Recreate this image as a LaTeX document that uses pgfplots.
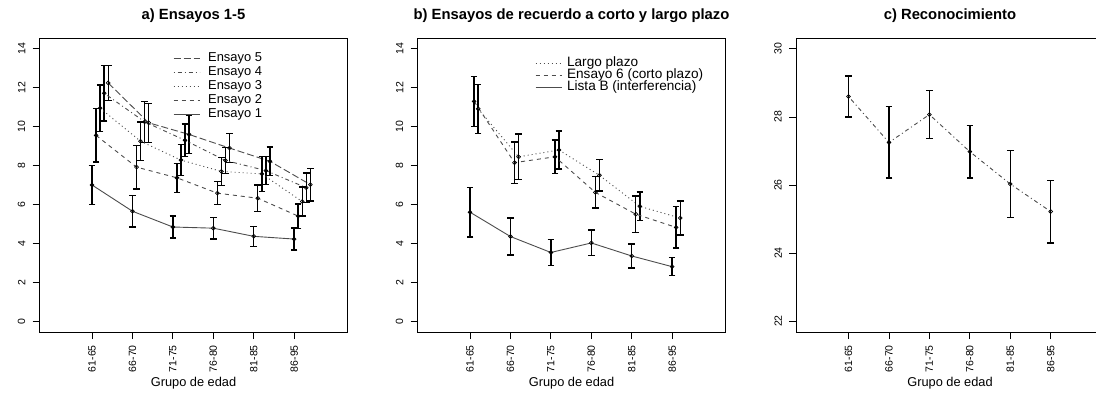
\documentclass[border=0pt]{standalone}
\usepackage{fontspec}
\setmainfont{Liberation Sans}
\usepackage{pgfplots}
\pgfplotsset{compat=1.18}
\begin{document}
\begin{tikzpicture}
\pgfplotsset{
  myaxis/.style={
    scale only axis, width=308pt, height=294pt,
    anchor=south west,
    xmin=-0.3, xmax=7.32,
    xtick={1,...,6}, xticklabels={61-65,66-70,71-75,76-80,81-85,86-95},
    xtick pos=left, ytick pos=left,
    tick align=outside,
    major tick length=7pt,
    tick style={black, line width=0.8pt},
    axis line style={black, line width=0.8pt},
    xticklabel style={rotate=90, anchor=east, font=\fontsize{10.5}{12}\selectfont, inner sep=0pt},
    yticklabel style={rotate=90, anchor=south, font=\fontsize{10.5}{12}\selectfont, inner sep=0pt},
    xticklabel shift=6pt, yticklabel shift=7pt,
    /pgf/number format/assume math mode=true,
    xlabel={Grupo de edad},
    xlabel style={font=\fontsize{12.8}{14}\selectfont, at={(axis description cs:0.5,0)}, anchor=base, yshift=-54pt},
    title style={font=\fontsize{14.8}{16}\selectfont\bfseries, at={(axis description cs:0.5,1)}, anchor=base, yshift=13pt},
    legend cell align=left,
    legend image code/.code={\draw[##1, mark=none] (0pt,0pt) -- (26pt,0pt);},
    error bars/y dir=both, error bars/y explicit,
    error bars/error bar style={solid, black, line width=1.4pt},
    error bars/error mark options={solid, black, line width=1.4pt, mark size=3.3pt, rotate=90},
  },
  ser/.style={black!70, line width=0.9pt, mark=o, mark size=1.9pt, mark options={solid, black, line width=0.7pt}},
}
% ---------------- panel a
\begin{axis}[myaxis, at={(39.5pt,60pt)},
  ymin=-0.56, ymax=14.56, ytick={0,2,...,14},
  title={a) Ensayos 1-5},
  legend style={draw=none, fill=none, inner sep=0pt, at={(axis description cs:0.4337,0.955)}, anchor=north west,
    font=\fontsize{12.9}{14}\selectfont, column sep=8pt,
    nodes={inner sep=0pt, text height=10pt, text depth=4pt}},
]
\addplot+[ser, dash pattern=on 7pt off 3pt] table[x=x,y=y,y error=e] {
x y e
1.4 12.25 0.9
2.4 10.2 1.0
3.4 9.6 0.98
4.4 8.9 0.75
5.4 8.22 0.74
6.4 7.02 0.84
};
\addlegendentry{Ensayo 5}
\addplot+[ser, dash pattern=on 1pt off 3pt on 4pt off 3pt] table[x=x,y=y,y error=e] {
x y e
1.3 11.72 1.43
2.3 10.25 1.05
3.3 9.3 0.83
4.3 8.26 0.68
5.3 7.74 0.72
6.3 6.86 0.75
};
\addlegendentry{Ensayo 4}
\addplot+[ser, dash pattern=on 1pt off 3pt] table[x=x,y=y,y error=e] {
x y e
1.2 10.95 1.2
2.2 9.25 1.0
3.2 8.28 0.8
4.2 7.7 0.72
5.2 7.57 0.9
6.2 6.15 0.75
};
\addlegendentry{Ensayo 3}
\addplot+[ser, dash pattern=on 4pt off 4pt] table[x=x,y=y,y error=e] {
x y e
1.1 9.55 1.37
2.1 7.92 1.12
3.1 7.37 0.75
4.1 6.58 0.59
5.1 6.32 0.68
6.1 5.4 0.63
};
\addlegendentry{Ensayo 2}
\addplot+[ser, solid] table[x=x,y=y,y error=e] {
x y e
1 7.0 1.0
2 5.65 0.8
3 4.84 0.57
4 4.78 0.55
5 4.36 0.51
6 4.22 0.57
};
\addlegendentry{Ensayo 1}
\end{axis}
% ---------------- panel b
\begin{axis}[myaxis, at={(417.5pt,60pt)},
  ymin=-0.56, ymax=14.56, ytick={0,2,...,14},
  title={b) Ensayos de recuerdo a corto y largo plazo},
  legend style={draw=none, fill=none, inner sep=0pt, at={(axis description cs:0.3815,0.935)}, anchor=north west,
    font=\fontsize{13.6}{14}\selectfont, column sep=5pt,
    nodes={inner sep=0pt, text height=9pt, text depth=3pt}},
]
\addplot+[ser, dash pattern=on 1pt off 3pt] table[x=x,y=y,y error=e] {
x y e
1.2 10.92 1.26
2.2 8.45 1.17
3.2 8.8 0.97
4.2 7.5 0.81
5.2 5.9 0.74
6.2 5.3 0.88
};
\addlegendentry{Largo plazo}
\addplot+[ser, dash pattern=on 4pt off 4pt] table[x=x,y=y,y error=e] {
x y e
1.1 11.3 1.28
2.1 8.15 1.07
3.1 8.45 0.87
4.1 6.62 0.81
5.1 5.5 0.94
6.1 4.82 1.07
};
\addlegendentry{Ensayo 6 (corto plazo)}
\addplot+[ser, solid] table[x=x,y=y,y error=e] {
x y e
1 5.6 1.27
2 4.35 0.96
3 3.53 0.67
4 4.02 0.66
5 3.35 0.61
6 2.8 0.46
};
\addlegendentry{Lista B (interferencia)}
\end{axis}
% ---------------- panel c
\begin{axis}[myaxis, at={(796pt,60pt)},
  ymin=21.68, ymax=30.32, ytick={22,24,...,30},
  title={c) Reconocimiento},
]
\addplot+[ser, dash pattern=on 1pt off 3pt on 4pt off 3pt] table[x=x,y=y,y error=e] {
x y e
1 28.6 0.6
2 27.25 1.05
3 28.07 0.7
4 26.98 0.77
5 26.03 0.98
6 25.22 0.92
};
\end{axis}
\pgfresetboundingbox
\path[use as bounding box] (0pt,0pt) rectangle (1096pt,392pt);
\end{tikzpicture}
\end{document}
